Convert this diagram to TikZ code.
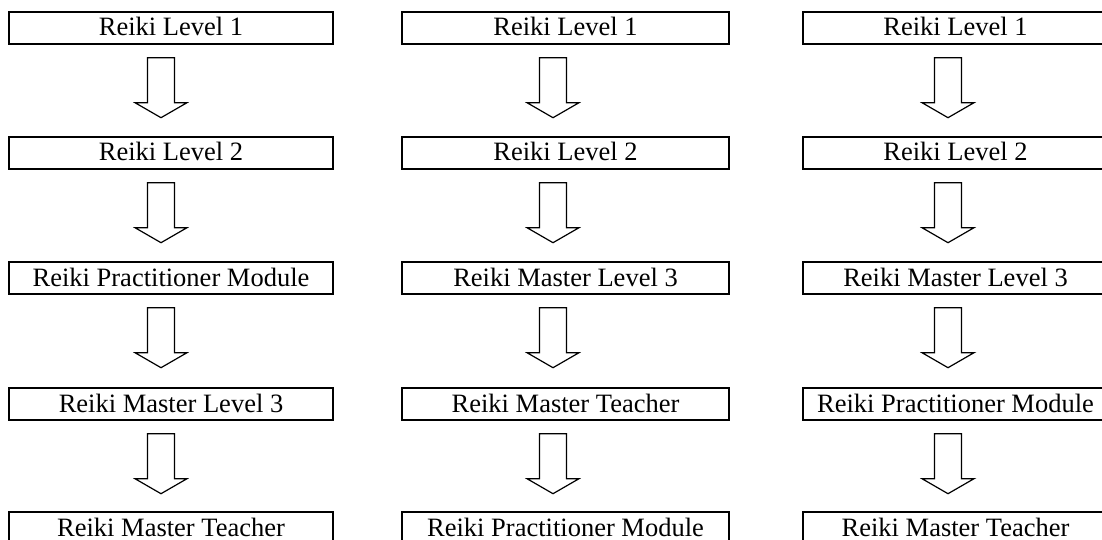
\documentclass[tikz,border=0pt]{standalone}
\usepackage{fontspec}
\setmainfont{Liberation Serif}
\usetikzlibrary{calc}
\newcommand\blockdown[2]{%
  \draw[blockarrow] ($(#1.south)+(#2,13)$) ++(-13.5,0) -- ++(0,45) -- ++(-12.5,0)
    -- ++(26,15) -- ++(26,-15) -- ++(-12.5,0) -- ++(0,-45) -- cycle;}
\begin{document}
\begin{tikzpicture}[x=1pt,y=-1pt,
  stage/.style={draw=black, line width=1.4pt, fill=white, minimum height=32pt,
    inner sep=0pt, text height=20pt, text depth=4pt,
    font=\fontsize{26.5}{30}\selectfont},
  colA/.style={stage, minimum width=324pt},
  colB/.style={stage, minimum width=327pt},
  colC/.style={stage, minimum width=305pt},
  blockarrow/.style={draw=black, line width=1.2pt, fill=white, line join=miter}]
\useasboundingbox (0,0) rectangle (1102,540);
\clip (0,0) rectangle (1102,540);
% column 1
\node[colA] (a1) at (171,28) {Reiki Level 1};
\node[colA] (a2) at (171,153) {Reiki Level 2};
\node[colA] (a3) at (171,278) {Reiki Practitioner Module};
\node[colA] (a4) at (171,404) {Reiki Master Level 3};
\node[colA] (a5) at (171,528) {Reiki Master Teacher};
% column 2
\node[colB] (b1) at (565.5,28) {Reiki Level 1};
\node[colB] (b2) at (565.5,153) {Reiki Level 2};
\node[colB] (b3) at (565.5,278) {Reiki Master Level 3};
\node[colB] (b4) at (565.5,404) {Reiki Master Teacher};
\node[colB] (b5) at (565.5,528) {Reiki Practitioner Module};
% column 3
\node[colC] (c1) at (955.5,28) {Reiki Level 1};
\node[colC] (c2) at (955.5,153) {Reiki Level 2};
\node[colC] (c3) at (955.5,278) {Reiki Master Level 3};
\node[colC] (c4) at (955.5,404) {Reiki Practitioner Module};
\node[colC] (c5) at (955.5,528) {Reiki Master Teacher};
% arrows
\blockdown{a1}{-10}\blockdown{a2}{-10}\blockdown{a3}{-10}\blockdown{a4}{-10}
\blockdown{b1}{-12.5}\blockdown{b2}{-12.5}\blockdown{b3}{-12.5}\blockdown{b4}{-12.5}
\blockdown{c1}{-7.5}\blockdown{c2}{-7.5}\blockdown{c3}{-7.5}\blockdown{c4}{-7.5}
\end{tikzpicture}
\end{document}
